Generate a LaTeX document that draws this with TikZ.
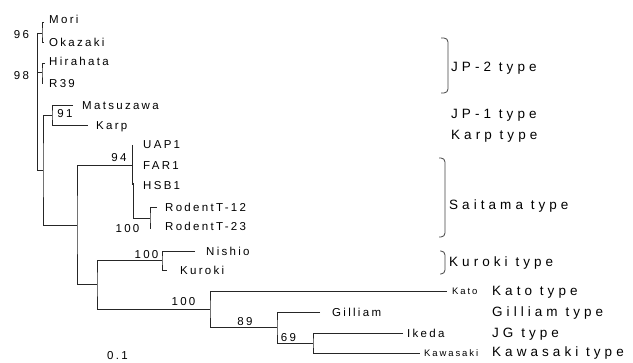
\documentclass[tikz,border=0pt]{standalone}
\usepackage{fontspec}
\newfontfamily\treefont{Liberation Sans}[LetterSpace=20]
\newfontfamily\tipfont{Liberation Sans}[LetterSpace=20]
\newfontfamily\typefont{Liberation Sans}[LetterSpace=30]
\usepackage{tikz}

\begin{document}
\begin{tikzpicture}[x=1pt, y=-1pt,
		branch/.style={line width=0.8pt, black!85},
		brak/.style={line width=0.8pt, black!75, rounded corners=4pt},
		leaf/.style={anchor=west, inner sep=0pt, text height=8.2pt, text depth=0pt, font=\treefont\fontsize{11.5}{12}\selectfont},
		tiny/.style={anchor=west, inner sep=0pt, text height=6.8pt, text depth=0pt, font=\tipfont\fontsize{9.5}{10}\selectfont},
		boot/.style={inner sep=0pt, text height=8.2pt, text depth=0pt, font=\treefont\fontsize{11.5}{12}\selectfont},
		kind/.style={anchor=west, inner sep=0pt, text height=9.6pt, text depth=0pt, font=\typefont\fontsize{13.5}{14}\selectfont}]
	\useasboundingbox (0,0) rectangle (633,363);

	% inner nodes
	\coordinate (rtop) at (37,33);
	\coordinate (rbot) at (37,170);
	\coordinate (nMO) at (42,33);
	\coordinate (nHR) at (42,72);
	\coordinate (nC) at (43,170);
	\coordinate (nMK) at (52,115);
	\coordinate (nD) at (77,225);
	\coordinate (nSai) at (132,165);
	\coordinate (sHSB) at (133,183);
	\coordinate (nRod) at (150,218);
	\coordinate (nE) at (97,284);
	\coordinate (nNK) at (162,260);
	\coordinate (nF) at (210,309);
	\coordinate (nG) at (277,327);
	\coordinate (nH) at (313,343);

	% tips
	\coordinate (tMori) at (44,22);
	\coordinate (tOkazaki) at (44,42);
	\coordinate (tHirahata) at (45,63);
	\coordinate (tR39) at (43,83);
	\coordinate (tMatsuzawa) at (73,105);
	\coordinate (tKarp) at (88,125);
	\coordinate (tUAP) at (132,145);
	\coordinate (tHSB) at (132,185);
	\coordinate (tR12) at (157,207);
	\coordinate (tR23) at (151,228);
	\coordinate (tNishio) at (195,251);
	\coordinate (tKuroki) at (167,270);
	\coordinate (tKato) at (447,291);
	\coordinate (tGilliam) at (320,312);
	\coordinate (tIkeda) at (403,333);
	\coordinate (tKawasaki) at (420,353);

	% branches
	\draw[branch] (rtop) -- (rbot);
	\draw[branch] (rtop) -- (nMO);
	\draw[branch] (nHR -| rtop) -- (nHR);
	\draw[branch] (rbot) -- (nC);
	\draw[branch] (tMori) -| (nMO) |- (tOkazaki);
	\draw[branch] (tHirahata) -| (nHR) |- (tR39);
	\draw[branch] (tMatsuzawa) -| (nMK) |- (tKarp);
	\draw[branch] (nMK) -| (nC) |- (nD);
	\draw[branch] (nSai) -| (nD) |- (nE);
	\draw[branch] (tUAP) -- (tHSB);
	\draw[branch] (sHSB) |- (nRod);
	\draw[branch] (tR12) -| (nRod) |- (tR23);
	\draw[branch] (nNK) -| (nE) |- (nF);
	\draw[branch] (tNishio) -| (nNK) |- (tKuroki);
	\draw[branch] (tKato) -| (nF) |- (nG);
	\draw[branch] (tGilliam) -| (nG) |- (nH);
	\draw[branch] (tIkeda) -| (nH) |- (tKawasaki);

	% leaf names
	\node[leaf] (lMori) at (49,19) {Mori};
	\node[leaf] (lOkazaki) at (49,42) {Okazaki};
	\node[leaf] (lHirahata) at (49,61) {Hirahata};
	\node[leaf] (lR39) at (49,83) {R39};
	\node[leaf] (lMatsuzawa) at (82,105) {Matsuzawa};
	\node[leaf] (lKarp) at (96,125) {Karp};
	\node[leaf] (lUAP) at (143,144) {UAP1};
	\node[leaf] (lFAR) at (143,165) {FAR1};
	\node[leaf] (lHSB) at (143,185) {HSB1};
	\node[leaf] (lR12) at (165,207) {RodentT-12};
	\node[leaf] (lR23) at (165,226) {RodentT-23};
	\node[leaf] (lNishio) at (206,251) {Nishio};
	\node[leaf] (lKuroki) at (180,270) {Kuroki};
	\node[tiny] (lKato) at (452,291) {Kato};
	\node[leaf] (lGilliam) at (332,312) {Gilliam};
	\node[leaf] (lIkeda) at (407,333) {Ikeda};
	\node[tiny] (lKawasaki) at (424,353) {Kawasaki};

	% bootstrap values
	\node[boot] (b96) at (21.5,34) {96};
	\node[boot] (b98) at (21.5,75) {98};
	\node[boot] (b91) at (65,113) {91};
	\node[boot] (b94) at (119,157) {94};
	\node[boot] (bRod) at (127.5,228) {100};
	\node[boot] (bNK) at (146.5,254) {100};
	\node[boot] (bKato) at (183.5,301) {100};
	\node[boot] (b89) at (245,321) {89};
	\node[boot] (b69) at (288.5,337) {69};
	\node[boot] (scale) at (117.5,355) {0.1};

	% types
	\draw[brak] (441,38) -- (448,38) -- (448,93) -- (441,93);
	\draw[brak] (439,158) -- (445,158) -- (445,237) -- (439,237);
	\draw[brak] (440,251) -- (445,251) -- (445,274) -- (440,274);
	\node[kind] (kJP2) at (451,67) {JP-2 type};
	\node[kind] (kJP1) at (451,114) {JP-1 type};
	\node[kind] (kKarp) at (451,135) {Karp type};
	\node[kind] (kSai) at (449,205) {Saitama type};
	\node[kind] (kKur) at (449,262) {Kuroki type};
	\node[kind] (kKato) at (492,291) {Kato type};
	\node[kind] (kGil) at (492,312) {Gilliam type};
	\node[kind] (kJG) at (492,333) {JG type};
	\node[kind] (kKaw) at (492,352) {Kawasaki type};
\end{tikzpicture}
\end{document}
